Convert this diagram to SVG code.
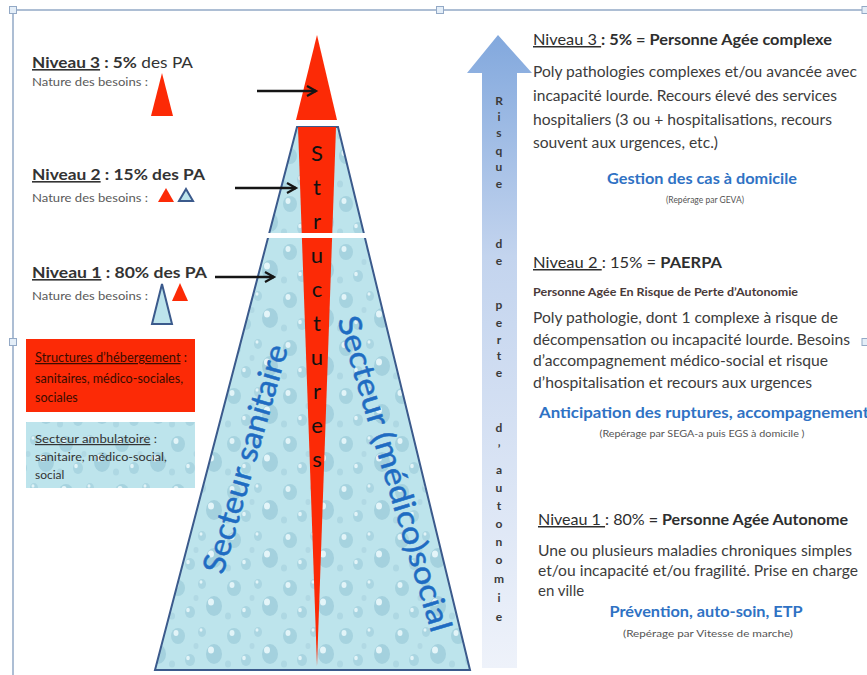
<svg xmlns="http://www.w3.org/2000/svg" width="867" height="675" viewBox="0 0 867 675">
<defs>
<style>
.t{font-family:Lato,"Liberation Sans",sans-serif;}
.b{font-weight:bold;}
.dk{fill:#3c3c3c;}
.blu{fill:#2f72c4;font-weight:bold;}
.sm{fill:#555;font-size:8.5px;}
.u{text-decoration:underline;}
.vl{font-family:Lato,"Liberation Sans",sans-serif;font-weight:bold;font-size:12px;fill:#3a3a3a;text-anchor:middle;}
.st{font-family:Lato,"Liberation Sans",sans-serif;font-size:22px;fill:#111;text-anchor:middle;}
.sec{font-family:Lato,"Liberation Sans",sans-serif;font-size:31px;fill:#1f6cc2;stroke:#1f6cc2;stroke-width:0.5;text-anchor:middle;}
.arr{stroke:#151515;stroke-width:2.5;fill:none;marker-end:url(#ah);}
.fr{stroke:#93a9c6;stroke-width:1.5;fill:none;}
.hd{fill:#e4eef8;stroke:#93a9c6;stroke-width:1;}
.red{fill:#fc2a06;}
.tri{fill:#bde4ec;stroke:#3b5a8c;stroke-width:2;}
</style>
<pattern id="drops" width="56" height="48" patternUnits="userSpaceOnUse">
<rect width="56" height="48" fill="#bde4ec"/>
<ellipse cx="10" cy="12" rx="7" ry="8" fill="#a6d3df"/>
<ellipse cx="8" cy="9" rx="2.5" ry="3" fill="#e2f4f8"/>
<ellipse cx="34" cy="8" rx="4" ry="5" fill="#abd6e2"/>
<ellipse cx="33" cy="6" rx="1.5" ry="1.8" fill="#e2f4f8"/>
<ellipse cx="46" cy="30" rx="8" ry="10" fill="#a4d1de"/>
<ellipse cx="43" cy="26" rx="3" ry="3.5" fill="#e4f5f9"/>
<ellipse cx="22" cy="36" rx="5" ry="6" fill="#a9d5e1"/>
<ellipse cx="20" cy="34" rx="1.8" ry="2.2" fill="#e2f4f8"/>
<ellipse cx="4" cy="40" rx="3" ry="3.5" fill="#aed8e3"/>
<ellipse cx="28" cy="22" rx="2.5" ry="3" fill="#b1d9e4"/>
</pattern>
<linearGradient id="ag" x1="0" y1="0" x2="0" y2="1">
<stop offset="0" stop-color="#82a8dd"/>
<stop offset="0.35" stop-color="#c3d4ee"/>
<stop offset="1" stop-color="#eef2fa"/>
</linearGradient>
<marker id="ah" markerUnits="userSpaceOnUse" markerWidth="14" markerHeight="14" refX="11" refY="6" orient="auto">
<path d="M2,1 L11,6 L2,11" fill="none" stroke="#151515" stroke-width="2.2"/>
</marker>
</defs>

<g id="frame">
<path class="fr" d="M13,10 H866 M13,10 V675"/>
<rect class="hd" x="9.5" y="6.5" width="7" height="7"/>
<rect class="hd" x="436.5" y="6.5" width="7" height="7"/>
<rect class="hd" x="9.5" y="338.5" width="7" height="7"/>
<rect class="hd" x="862" y="6.5" width="7" height="7"/>
<rect class="hd" x="862" y="338.5" width="7" height="7"/>
</g>

<g id="pyramid">
<polygon points="297,127 338,127 470,670 155,670" fill="url(#drops)" stroke="#3b5a8c" stroke-width="2"/>
<polygon class="red" points="298,127 336,127 317,666"/>
<polygon class="red" points="317,35 337,120 296,120"/>
<rect x="255" y="233" width="125" height="5" fill="#ffffff"/>
<text class="st" x="317" y="161">S</text>
<text class="st" x="317" y="195">t</text>
<text class="st" x="317" y="229">r</text>
<text class="st" x="317" y="263">u</text>
<text class="st" x="317" y="297">c</text>
<text class="st" x="317" y="331">t</text>
<text class="st" x="317" y="365">u</text>
<text class="st" x="317" y="399">r</text>
<text class="st" x="317" y="433">e</text>
<text class="st" x="317" y="467">s</text>
<text class="sec" transform="translate(246,459) rotate(-74)" x="0" y="10" textLength="236" lengthAdjust="spacingAndGlyphs">Secteur sanitaire</text>
<text class="sec" transform="translate(394,474) rotate(73.3)" x="0" y="10" textLength="328" lengthAdjust="spacingAndGlyphs">Secteur (médico)social</text>
</g>

<g id="connectors">
<line class="arr" x1="257" y1="91" x2="316" y2="91"/>
<line class="arr" x1="235" y1="188" x2="296" y2="188"/>
<line class="arr" x1="215" y1="277" x2="274" y2="277"/>
</g>

<g id="niveau3-left">
<text class="t" x="32" y="68" font-size="16" fill="#333" textLength="161" lengthAdjust="spacingAndGlyphs"><tspan class="b u">Niveau 3</tspan><tspan class="b"> : 5%</tspan> des PA</text>
<text class="t" x="32" y="86" font-size="12" fill="#5a5a5a" textLength="116" lengthAdjust="spacingAndGlyphs">Nature des besoins :</text>
<polygon class="red" points="162,73 173,116 151,116"/>
</g>

<g id="niveau2-left">
<text class="t b" x="32" y="180" font-size="16" fill="#333" textLength="173" lengthAdjust="spacingAndGlyphs"><tspan class="u">Niveau 2</tspan> : 15% des PA</text>
<text class="t" x="32" y="202" font-size="12" fill="#5a5a5a" textLength="116" lengthAdjust="spacingAndGlyphs">Nature des besoins :</text>
<polygon class="red" points="166,188 174,202 158,202"/>
<polygon class="tri" points="186,189 193,201 179,201"/>
</g>

<g id="niveau1-left">
<text class="t b" x="32" y="278" font-size="16" fill="#333" textLength="175" lengthAdjust="spacingAndGlyphs"><tspan class="u">Niveau 1</tspan> : 80% des PA</text>
<text class="t" x="32" y="300" font-size="12" fill="#5a5a5a" textLength="116" lengthAdjust="spacingAndGlyphs">Nature des besoins :</text>
<polygon class="tri" points="162,284 172,324 152,324"/>
<polygon class="red" points="180,283 188,301 172,301"/>
</g>

<g id="legend-structures">
<rect x="26" y="339" width="169" height="73" class="red"/>
<text class="t" font-size="12.5" fill="#3a0c00">
<tspan x="35" y="362" textLength="152" lengthAdjust="spacingAndGlyphs"><tspan class="u">Structures d’hébergement</tspan> :</tspan>
<tspan x="35" y="383" textLength="148" lengthAdjust="spacingAndGlyphs">sanitaires, médico-sociales,</tspan>
<tspan x="35" y="402">sociales</tspan>
</text>
</g>

<g id="legend-ambulatoire">
<rect x="26" y="422" width="169" height="66" fill="url(#drops)"/>
<text class="t" font-size="12" fill="#333">
<tspan x="35" y="443" textLength="122" lengthAdjust="spacingAndGlyphs"><tspan class="u">Secteur ambulatoire</tspan> :</tspan>
<tspan x="35" y="461" textLength="132" lengthAdjust="spacingAndGlyphs">sanitaire, médico-social,</tspan>
<tspan x="35" y="479">social</tspan>
</text>
</g>

<g id="risk-arrow">
<polygon points="498,35 532,73 517,73 517,668 482,668 482,73 467,73" fill="url(#ag)"/>
<text class="vl" x="499" y="105">R</text>
<text class="vl" x="499" y="121">i</text>
<text class="vl" x="499" y="137">s</text>
<text class="vl" x="499" y="155">q</text>
<text class="vl" x="499" y="171">u</text>
<text class="vl" x="499" y="188">e</text>
<text class="vl" x="499" y="248">d</text>
<text class="vl" x="499" y="265">e</text>
<text class="vl" x="499" y="309">p</text>
<text class="vl" x="499" y="327">e</text>
<text class="vl" x="499" y="344">r</text>
<text class="vl" x="499" y="360">t</text>
<text class="vl" x="499" y="377">e</text>
<text class="vl" x="499" y="432">d</text>
<text class="vl" x="499" y="453">’</text>
<text class="vl" x="499" y="474">a</text>
<text class="vl" x="499" y="492">u</text>
<text class="vl" x="499" y="510">t</text>
<text class="vl" x="499" y="528">o</text>
<text class="vl" x="499" y="546">n</text>
<text class="vl" x="499" y="564">o</text>
<text class="vl" x="499" y="583">m</text>
<text class="vl" x="499" y="602">i</text>
<text class="vl" x="499" y="621">e</text>
</g>

<g id="niveau3-right">
<text class="t" x="533" y="45" font-size="15" fill="#2e2e2e" textLength="299" lengthAdjust="spacingAndGlyphs"><tspan class="u">Niveau 3  </tspan><tspan class="b">: 5%  = Personne Agée complexe</tspan></text>
<text class="t dk" font-size="15.5">
<tspan x="533" y="77" textLength="324" lengthAdjust="spacingAndGlyphs">Poly pathologies complexes et/ou avancée avec</tspan>
<tspan x="533" y="101" textLength="304" lengthAdjust="spacingAndGlyphs">incapacité lourde. Recours élevé des services</tspan>
<tspan x="533" y="125" textLength="299" lengthAdjust="spacingAndGlyphs">hospitaliers (3 ou + hospitalisations, recours</tspan>
<tspan x="533" y="148" textLength="185" lengthAdjust="spacingAndGlyphs">souvent aux urgences, etc.)</tspan>
</text>
<text class="t blu" x="702" y="184" font-size="16" text-anchor="middle" textLength="190" lengthAdjust="spacingAndGlyphs">Gestion des cas à domicile</text>
<text class="t sm" x="705" y="203" text-anchor="middle">(Repérage par GEVA)</text>
</g>

<g id="niveau2-right">
<text class="t" x="533" y="268" font-size="15" fill="#2e2e2e" textLength="189" lengthAdjust="spacingAndGlyphs"><tspan class="u">Niveau 2  </tspan>: 15% =  <tspan class="b">PAERPA</tspan></text>
<text class="t b" x="533" y="296" font-size="11" fill="#4a3a3a" textLength="265" lengthAdjust="spacingAndGlyphs">Personne Agée En Risque de Perte d’Autonomie</text>
<text class="t dk" font-size="15">
<tspan x="533" y="323" textLength="305" lengthAdjust="spacingAndGlyphs">Poly pathologie, dont 1 complexe à risque de</tspan>
<tspan x="533" y="345" textLength="317" lengthAdjust="spacingAndGlyphs">décompensation ou incapacité lourde. Besoins</tspan>
<tspan x="533" y="366" textLength="295" lengthAdjust="spacingAndGlyphs">d’accompagnement médico-social et risque</tspan>
<tspan x="533" y="388" textLength="279" lengthAdjust="spacingAndGlyphs">d’hospitalisation et recours aux urgences</tspan>
</text>
<text class="t blu" x="539" y="418" font-size="16" textLength="330" lengthAdjust="spacingAndGlyphs">Anticipation des ruptures, accompagnement</text>
<text class="t sm" x="702" y="437" text-anchor="middle" font-size="9" textLength="205" lengthAdjust="spacingAndGlyphs">(Repérage par SEGA-a  puis EGS à domicile )</text>
</g>

<g id="niveau1-right">
<text class="t" x="538" y="525" font-size="15" fill="#2e2e2e" textLength="310" lengthAdjust="spacingAndGlyphs"><tspan class="u">Niveau 1 </tspan>: 80% <tspan class="b">= Personne Agée Autonome</tspan></text>
<text class="t dk" font-size="15">
<tspan x="538" y="556" textLength="314" lengthAdjust="spacingAndGlyphs">Une ou plusieurs maladies chroniques simples</tspan>
<tspan x="538" y="576" textLength="320" lengthAdjust="spacingAndGlyphs">et/ou incapacité et/ou fragilité. Prise en charge</tspan>
<tspan x="538" y="596">en ville</tspan>
</text>
<text class="t blu" x="706" y="617" font-size="16" text-anchor="middle" textLength="193" lengthAdjust="spacingAndGlyphs">Prévention, auto-soin, ETP</text>
<text class="t sm" x="708" y="637" text-anchor="middle" textLength="170" lengthAdjust="spacingAndGlyphs">(Repérage par Vitesse de marche)</text>
</g>
</svg>
